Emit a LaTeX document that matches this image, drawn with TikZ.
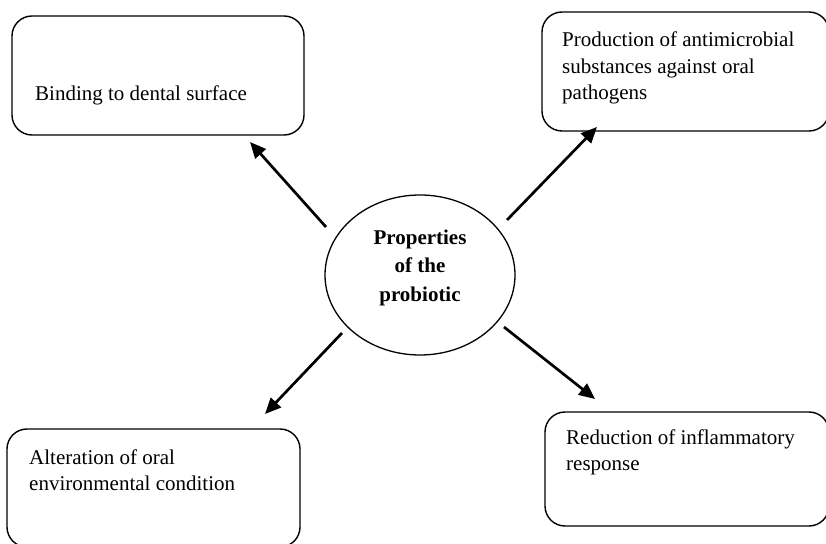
\documentclass[tikz,border=0pt]{standalone}
\usepackage{fontspec}
\setmainfont{Liberation Serif}
\usetikzlibrary{arrows.meta}
\tikzset{
  boxshape/.style={draw, line width=1.4bp, rounded corners=20bp, inner sep=0pt},
  boxtext/.style={anchor=north west, inner sep=0pt, align=left, font=\fontsize{21bp}{26.5bp}\selectfont},
  arr/.style={line width=2.7bp, -{Triangle[length=16bp,width=14bp]}},
}
\begin{document}
\begin{tikzpicture}[x=1bp,y=-1bp]
\useasboundingbox (0,0) rectangle (826,544);
\clip (0,0) rectangle (826,544);
% boxes
\node[boxshape, minimum width=292bp, minimum height=119bp] (tl) at (158,75.5) {};
\node[boxshape, minimum width=287bp, minimum height=119bp] (tr) at (685.5,71.5) {};
\node[boxshape, minimum width=293bp, minimum height=118bp] (bl) at (153.5,488) {};
\node[boxshape, minimum width=284bp, minimum height=114bp] (br) at (687,469) {};
% box texts
\node[boxtext] (tltext) at (35,82) {\strut Binding to dental surface};
\node[boxtext] (trtext) at (562,28) {\strut Production of antimicrobial\\substances against oral\\pathogens};
\node[boxtext] (bltext) at (29,445.5) {\strut Alteration of oral\\environmental condition};
\node[boxtext] (brtext) at (566,425.5) {\strut Reduction of inflammatory\\response};
% centre ellipse
\draw[line width=1.3bp] (420,275) ellipse [x radius=95, y radius=80];
\node[inner sep=0pt, align=center, anchor=north, font=\bfseries\fontsize{21bp}{28.5bp}\selectfont] (centre) at (420,224) {\strut Properties\\of the\\probiotic};
% arrow coordinates
\coordinate (s1) at (326,227); \coordinate (e1) at (250,142);
\coordinate (s2) at (507,220); \coordinate (e2) at (597,127);
\coordinate (s3) at (342,333); \coordinate (e3) at (265,414);
\coordinate (s4) at (504,327); \coordinate (e4) at (595,399);
\draw[arr] (s1) -- (e1);
\draw[arr] (s2) -- (e2);
\draw[arr] (s3) -- (e3);
\draw[arr] (s4) -- (e4);
\end{tikzpicture}
\end{document}
